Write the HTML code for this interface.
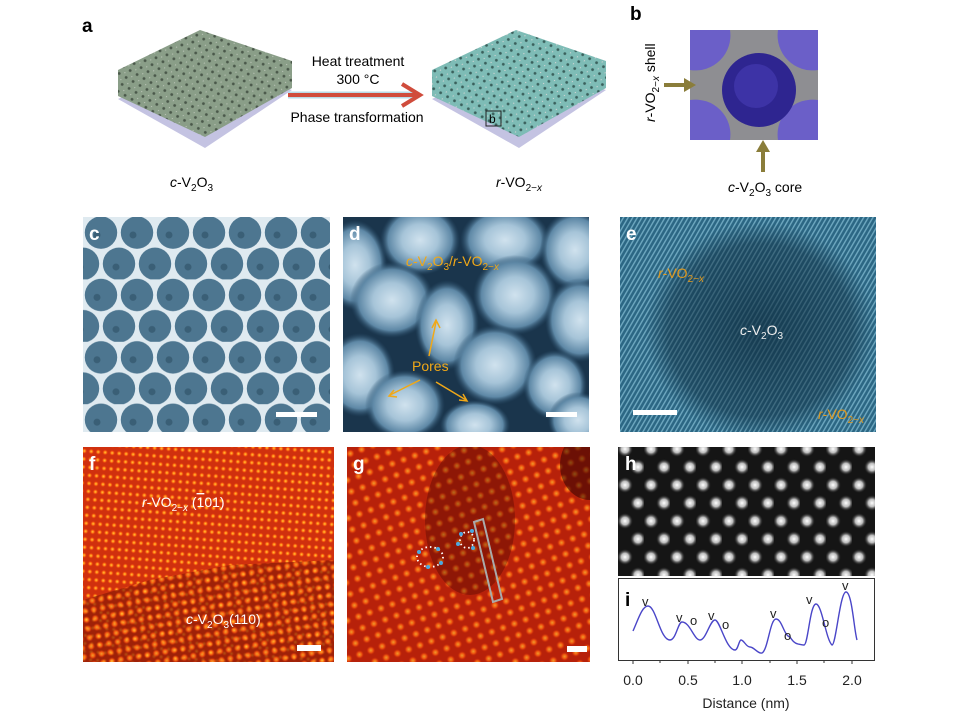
<!DOCTYPE html>
<html><head><meta charset="utf-8"><style>
html,body{margin:0;padding:0;background:#fff;}
svg{display:block;font-family:"Liberation Sans",sans-serif;}
</style></head><body>
<svg width="969" height="720" viewBox="0 0 969 720" xmlns="http://www.w3.org/2000/svg">
<defs>
 <clipPath id="cd"><rect x="343" y="217" width="246" height="215"/></clipPath>
 <clipPath id="cg"><rect x="347" y="447" width="243" height="215"/></clipPath>
 <clipPath id="ce"><rect x="620" y="217" width="256" height="215"/></clipPath>
 <pattern id="pg" width="8" height="8" patternUnits="userSpaceOnUse" patternTransform="rotate(30)">
  <rect width="8" height="8" fill="#8a9e88"/><circle cx="4" cy="4" r="1.4" fill="#4a584a"/><circle cx="0" cy="0" r="1.2" fill="#c0c8bc"/></pattern>
 <pattern id="pt" width="8" height="8" patternUnits="userSpaceOnUse" patternTransform="rotate(30)">
  <rect width="8" height="8" fill="#7ebcb6"/><circle cx="4" cy="4" r="1.4" fill="#3a605c"/><circle cx="0" cy="0" r="1.2" fill="#e0d8d8"/></pattern>
 <pattern id="pc" width="36" height="62.4" patternUnits="userSpaceOnUse" x="83" y="217">
  <rect width="36" height="62.4" fill="#dfeaf0"/>
  <circle cx="18" cy="15.6" r="16.2" fill="#4d7690"/><circle cx="0" cy="46.8" r="16.2" fill="#4d7690"/><circle cx="36" cy="46.8" r="16.2" fill="#4d7690"/>
  <circle cx="18" cy="-15.6" r="16.2" fill="#4d7690"/><circle cx="18" cy="78" r="16.2" fill="#4d7690"/>
  <circle cx="14" cy="18" r="3.5" fill="#3a5f76"/><circle cx="-3" cy="50" r="3.5" fill="#3a5f76"/><circle cx="33" cy="50" r="3.5" fill="#3a5f76"/></pattern>
 <radialGradient id="bl"><stop offset="0" stop-color="#d0e2ee"/><stop offset="0.45" stop-color="#a6c4d8"/><stop offset="0.8" stop-color="#5e88a6"/><stop offset="1" stop-color="#2a4e6a" stop-opacity="0"/></radialGradient>
 <pattern id="pe" width="4" height="4" patternUnits="userSpaceOnUse" patternTransform="rotate(-60)">
  <rect width="4" height="4" fill="#2c6784"/><rect width="4" height="1.4" fill="#6ea8c0"/></pattern>
 <radialGradient id="edk"><stop offset="0" stop-color="#0d2a3c" stop-opacity="0.7"/><stop offset="0.8" stop-color="#0d2a3c" stop-opacity="0.45"/><stop offset="1" stop-color="#0d2a3c" stop-opacity="0"/></radialGradient>
 <radialGradient id="dot"><stop offset="0" stop-color="#ffd23a"/><stop offset="0.5" stop-color="#ff6a10"/><stop offset="1" stop-color="#d22a08" stop-opacity="0"/></radialGradient>
 <pattern id="pf" width="7" height="8" patternUnits="userSpaceOnUse" patternTransform="rotate(4)">
  <rect width="7" height="8" fill="#d0300e"/><circle cx="3.5" cy="4" r="3" fill="url(#dot)"/></pattern>
 <pattern id="pf2" width="9" height="9" patternUnits="userSpaceOnUse" patternTransform="rotate(-10)">
  <rect width="9" height="9" fill="#8a1a06"/><circle cx="4.5" cy="4.5" r="4" fill="url(#dot)"/></pattern>
 <pattern id="pgg" width="12" height="12" patternUnits="userSpaceOnUse" patternTransform="rotate(-20)">
  <rect width="12" height="12" fill="#b0200a"/><circle cx="6" cy="6" r="4.5" fill="url(#dot)"/></pattern>
 <radialGradient id="wd"><stop offset="0" stop-color="#fff"/><stop offset="0.45" stop-color="#bbb"/><stop offset="1" stop-color="#000" stop-opacity="0"/></radialGradient>
 <pattern id="ph" width="26" height="36" patternUnits="userSpaceOnUse" x="618" y="440">
  <rect width="26" height="36" fill="#151515"/>
  <circle cx="7" cy="9" r="8.5" fill="url(#wd)"/><circle cx="20" cy="27" r="8.5" fill="url(#wd)"/>
  <circle cx="20" cy="-9" r="8.5" fill="url(#wd)"/><circle cx="7" cy="45" r="8.5" fill="url(#wd)"/></pattern>
</defs>

<!-- panel a -->
<text x="82" y="32" font-size="19" font-weight="bold">a</text>
<g>
 <polygon points="118,99 200,59 292,90 205,148" fill="#c4c3e2"/>
 <polygon points="118,70 200,30 292,61 292,88 205,137 118,96" fill="url(#pg)"/>
</g>
<g>
 <polygon points="432,99 516,59 606,90 519,148" fill="#c4c3e2"/>
 <polygon points="432,70 516,30 606,61 606,88 519,137 432,96" fill="url(#pt)"/>
 <rect x="486" y="111" width="15" height="15" fill="none" stroke="#222" stroke-width="1"/>
 <text x="489" y="123" font-size="12">b</text>
</g>
<line x1="288" y1="95" x2="418" y2="95" stroke="#b8dbe8" stroke-width="7"/>
<line x1="288" y1="95" x2="418" y2="95" stroke="#d04c3c" stroke-width="4"/>
<polyline points="402,84 420,95 402,106" fill="none" stroke="#d04c3c" stroke-width="4"/>
<text x="358" y="66" font-size="14" text-anchor="middle">Heat treatment</text>
<text x="358" y="84" font-size="14" text-anchor="middle">300 °C</text>
<text x="357" y="122" font-size="14" text-anchor="middle">Phase transformation</text>
<text x="170" y="187" font-size="14"><tspan font-style="italic">c</tspan>-V<tspan font-size="10" dy="4">2</tspan><tspan dy="-4">O</tspan><tspan font-size="10" dy="4">3</tspan></text>
<text x="496" y="187" font-size="14"><tspan font-style="italic">r</tspan>-VO<tspan font-size="10" dy="4">2−<tspan font-style="italic">x</tspan></tspan></text>

<!-- panel b -->
<text x="630" y="20" font-size="19" font-weight="bold">b</text>
<rect x="690" y="30" width="128" height="110" fill="#8e8e92"/>
<path d="M690,30 h40 a35,35 0 0 1 -40,40z M818,30 h-40 a35,35 0 0 0 40,40z M690,140 h40 a35,35 0 0 0 -40,-40z M818,140 h-40 a35,35 0 0 1 40,-40z" fill="#6b5fc8"/>
<circle cx="759" cy="90" r="37" fill="#2e2590"/>
<circle cx="756" cy="86" r="22" fill="#3d33a6"/>
<line x1="664" y1="85" x2="688" y2="85" stroke="#8a7d3a" stroke-width="4"/>
<polygon points="684,78 696,85 684,92" fill="#8a7d3a"/>
<line x1="763" y1="172" x2="763" y2="150" stroke="#8a7d3a" stroke-width="4"/>
<polygon points="756,152 763,140 770,152" fill="#8a7d3a"/>
<text transform="translate(655,122) rotate(-90)" font-size="14"><tspan font-style="italic">r</tspan>-VO<tspan font-size="10" dy="4">2−<tspan font-style="italic">x</tspan></tspan><tspan dy="-4"> shell</tspan></text>
<text x="728" y="192" font-size="14"><tspan font-style="italic">c</tspan>-V<tspan font-size="10" dy="4">2</tspan><tspan dy="-4">O</tspan><tspan font-size="10" dy="4">3</tspan><tspan dy="-4"> core</tspan></text>

<!-- panel c -->
<rect x="83" y="217" width="247" height="215" fill="url(#pc)"/>
<text x="89" y="240" font-size="19" font-weight="bold" fill="#fff">c</text>
<rect x="276" y="412" width="41" height="5" fill="#fff"/>

<!-- panel d -->
<rect x="343" y="217" width="246" height="215" fill="#1a354c"/>
<g fill="url(#bl)" clip-path="url(#cd)">
 <ellipse cx="355" cy="265" rx="32" ry="45"/><ellipse cx="420" cy="240" rx="40" ry="35"/><ellipse cx="505" cy="240" rx="45" ry="34"/><ellipse cx="575" cy="250" rx="35" ry="40"/>
 <ellipse cx="392" cy="300" rx="42" ry="38"/><ellipse cx="447" cy="325" rx="32" ry="45"/><ellipse cx="515" cy="295" rx="42" ry="40"/><ellipse cx="580" cy="320" rx="35" ry="42"/>
 <ellipse cx="360" cy="375" rx="35" ry="42"/><ellipse cx="405" cy="405" rx="40" ry="35"/><ellipse cx="495" cy="365" rx="42" ry="40"/><ellipse cx="555" cy="385" rx="32" ry="35"/><ellipse cx="578" cy="420" rx="30" ry="28"/><ellipse cx="475" cy="425" rx="35" ry="25"/>
</g>
<text x="349" y="240" font-size="19" font-weight="bold" fill="#fff">d</text>
<text x="406" y="266" font-size="14" fill="#f0a818"><tspan font-style="italic">c</tspan>-V<tspan font-size="10" dy="4">2</tspan><tspan dy="-4">O</tspan><tspan font-size="10" dy="4">3</tspan><tspan dy="-4">/</tspan><tspan font-style="italic">r</tspan>-VO<tspan font-size="10" dy="4">2−<tspan font-style="italic">x</tspan></tspan></text>
<text x="412" y="371" font-size="14" fill="#f0a818">Pores</text>
<g stroke="#f0a818" stroke-width="1.5" fill="none">
 <line x1="429" y1="356" x2="436" y2="322"/><polyline points="432,328 436,320 440,328"/>
 <line x1="420" y1="380" x2="390" y2="395"/><polyline points="394,390 389,396 397,397"/>
 <line x1="436" y1="382" x2="466" y2="400"/><polyline points="459,400 467,401 463,394"/>
</g>
<rect x="546" y="412" width="31" height="5" fill="#fff"/>

<!-- panel e -->
<rect x="620" y="217" width="256" height="215" fill="url(#pe)"/>
<ellipse cx="760" cy="330" rx="115" ry="108" fill="url(#edk)" clip-path="url(#ce)"/>
<text x="626" y="240" font-size="19" font-weight="bold" fill="#fff">e</text>
<text x="658" y="278" font-size="14" fill="#e09a20"><tspan font-style="italic">r</tspan>-VO<tspan font-size="10" dy="4">2−<tspan font-style="italic">x</tspan></tspan></text>
<text x="740" y="335" font-size="14" fill="#eee"><tspan font-style="italic">c</tspan>-V<tspan font-size="10" dy="4">2</tspan><tspan dy="-4">O</tspan><tspan font-size="10" dy="4">3</tspan></text>
<text x="818" y="419" font-size="14" fill="#e09a20"><tspan font-style="italic">r</tspan>-VO<tspan font-size="10" dy="4">2−<tspan font-style="italic">x</tspan></tspan></text>
<rect x="633" y="410" width="44" height="5" fill="#fff"/>

<!-- panel f -->
<rect x="83" y="447" width="251" height="215" fill="url(#pf)"/>
<polygon points="83,600 83,662 334,662 334,560 230,565 150,580" fill="url(#pf2)" opacity="0.7"/>
<text x="89" y="470" font-size="19" font-weight="bold" fill="#fff">f</text>
<text x="142" y="507" font-size="14" fill="#fff"><tspan font-style="italic">r</tspan>-VO<tspan font-size="10" dy="4">2−<tspan font-style="italic">x</tspan></tspan><tspan dy="-4"> (</tspan><tspan text-decoration="overline">1</tspan>01)</text>
<text x="186" y="624" font-size="14" fill="#fff"><tspan font-style="italic">c</tspan>-V<tspan font-size="10" dy="4">2</tspan><tspan dy="-4">O</tspan><tspan font-size="10" dy="4">3</tspan><tspan dy="-4">(110)</tspan></text>
<rect x="297" y="645" width="24" height="6" fill="#fff"/>

<!-- panel g -->
<rect x="347" y="447" width="243" height="215" fill="url(#pgg)"/>
<rect x="347" y="447" width="243" height="215" fill="#c8260c" opacity="0.3"/>
<g clip-path="url(#cg)">
 <ellipse cx="470" cy="520" rx="45" ry="75" fill="#300" opacity="0.3"/>
 <ellipse cx="590" cy="465" rx="30" ry="35" fill="#200" opacity="0.5"/>
</g>
<text x="353" y="470" font-size="19" font-weight="bold" fill="#fff">g</text>
<ellipse cx="430" cy="557" rx="13" ry="10" fill="none" stroke="#fff" stroke-width="1.8" stroke-dasharray="1.5,3"/>
<ellipse cx="467" cy="540" rx="7" ry="8" fill="none" stroke="#fff" stroke-width="1.8" stroke-dasharray="1.5,3"/>
<g fill="#4aa8e0"><circle cx="419" cy="552" r="2"/><circle cx="438" cy="549" r="2"/><circle cx="441" cy="563" r="2"/><circle cx="428" cy="567" r="2"/><circle cx="461" cy="534" r="2"/><circle cx="472" cy="531" r="2"/><circle cx="473" cy="548" r="2"/><circle cx="458" cy="544" r="2"/></g>
<polygon points="474,522 483,519 502,599 493,602" fill="none" stroke="#aaa" stroke-width="2"/>
<rect x="567" y="646" width="20" height="6" fill="#fff"/>

<!-- panel h -->
<rect x="618" y="447" width="257" height="129" fill="url(#ph)"/>
<text x="625" y="470" font-size="19" font-weight="bold" fill="#fff">h</text>

<!-- panel i -->
<rect x="618.5" y="578.5" width="256" height="82" fill="#fff" stroke="#333" stroke-width="1"/>
<text x="625" y="606" font-size="19" font-weight="bold">i</text>
<path d="M633,631 C638,620 642,606 648,606 C656,606 660,640 670,640 C676,640 678,622 682,622 C690,622 694,640 700,640 C706,640 710,620 715,620 C720,620 726,650 735,650 C738,650 739,640 741,640 C744,640 746,647 750,647 C754,647 758,654 762,653 C768,650 770,619 776,619 C782,619 784,636 790,637 C795,645 798,644 804,645 C808,645 810,604 816,604 C822,604 826,640 832,645 C836,645 840,592 846,592 C852,592 854,630 857,640" fill="none" stroke="#4a46c8" stroke-width="1.4"/>
<g font-size="13" fill="#222">
 <text x="642" y="606">v</text><text x="676" y="622">v</text><text x="690" y="625">o</text><text x="708" y="620">v</text><text x="722" y="629">o</text>
 <text x="770" y="618">v</text><text x="784" y="640">o</text><text x="806" y="604">v</text><text x="822" y="627">o</text><text x="842" y="590">v</text>
</g>
<g stroke="#333" stroke-width="1">
 <line x1="633" y1="660" x2="633" y2="664"/><line x1="660" y1="660" x2="660" y2="663"/><line x1="688" y1="660" x2="688" y2="664"/><line x1="715" y1="660" x2="715" y2="663"/>
 <line x1="742" y1="660" x2="742" y2="664"/><line x1="770" y1="660" x2="770" y2="663"/><line x1="797" y1="660" x2="797" y2="664"/><line x1="824" y1="660" x2="824" y2="663"/><line x1="852" y1="660" x2="852" y2="664"/>
</g>
<g font-size="14" text-anchor="middle" fill="#222">
 <text x="633" y="685">0.0</text><text x="688" y="685">0.5</text><text x="742" y="685">1.0</text><text x="797" y="685">1.5</text><text x="852" y="685">2.0</text>
 <text x="746" y="708">Distance (nm)</text>
</g>
</svg>
</body></html>
